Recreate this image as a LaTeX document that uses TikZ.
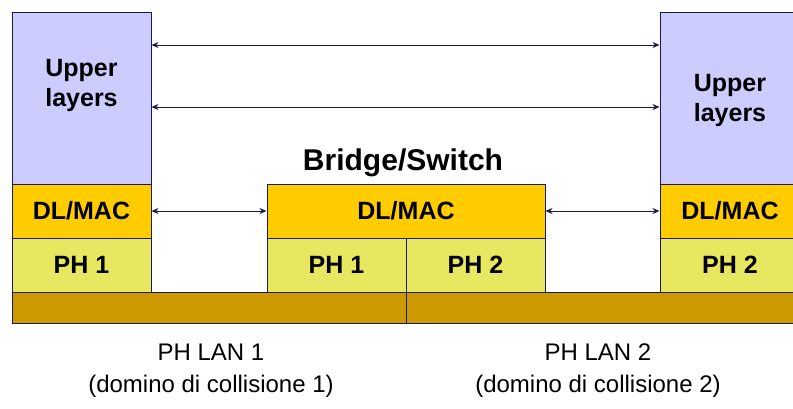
\documentclass[tikz,border=0pt]{standalone}
\usepackage{fontspec}
\setmainfont{Liberation Sans}
\usetikzlibrary{arrows.meta}
\definecolor{upper}{HTML}{CCCCFF}
\definecolor{dlmac}{HTML}{FFCC00}
\definecolor{phy}{HTML}{E8E860}
\definecolor{bar}{HTML}{CC9900}
\definecolor{edge}{HTML}{1A1A4A}
\tikzset{
  layer/.style={draw=edge, line width=1pt, rectangle, inner sep=0pt, outer sep=0pt,
    font=\fontsize{25}{30}\selectfont\bfseries, align=center},
  link/.style={draw=edge, line width=1pt, {Stealth[length=7pt,width=6pt]}-{Stealth[length=7pt,width=6pt]}, shorten <=0.5pt, shorten >=0.5pt},
  caption/.style={font=\fontsize{24}{32}\selectfont, align=center, inner sep=0pt}
}
\begin{document}
\begin{tikzpicture}[x=1pt,y=-1pt]
\useasboundingbox (0,0) rectangle (793,408);
\clip (0,0) rectangle (793,408);
% left station
\node[layer, fill=upper, minimum width=139pt, minimum height=172pt] (lup) at (81.5,98) {};
\node[font=\fontsize{25}{30}\selectfont\bfseries, align=center, inner sep=0pt] (luptxt) at (81.5,85) {Upper\\layers};
\node[layer, fill=dlmac, minimum width=139pt, minimum height=54pt] (ldl) at (81.5,211) {DL/MAC};
\node[layer, fill=phy, minimum width=139pt, minimum height=54pt] (lph) at (81.5,265) {PH 1};
% bridge
\node[font=\fontsize{30}{34}\selectfont\bfseries, inner sep=0pt] (btitle) at (403,163) {Bridge/Switch};
\node[layer, fill=dlmac, minimum width=278pt, minimum height=54pt] (bdl) at (406,211) {DL/MAC};
\node[layer, fill=phy, minimum width=139pt, minimum height=54pt] (bph1) at (336.5,265) {PH 1};
\node[layer, fill=phy, minimum width=139pt, minimum height=54pt] (bph2) at (475.5,265) {PH 2};
% right station
\node[layer, fill=upper, minimum width=140pt, minimum height=172pt] (rup) at (730,98) {};
\node[font=\fontsize{25}{30}\selectfont\bfseries, align=center, inner sep=0pt] (ruptxt) at (730,100) {Upper\\layers};
\node[layer, fill=dlmac, minimum width=140pt, minimum height=54pt] (rdl) at (730,211) {DL/MAC};
\node[layer, fill=phy, minimum width=140pt, minimum height=54pt] (rph) at (730,265) {PH 2};
% physical media
\node[layer, fill=bar, minimum width=394pt, minimum height=31pt] (bar1) at (209,307.5) {};
\node[layer, fill=bar, minimum width=400pt, minimum height=31pt] (bar2) at (606,307.5) {};
% links
\draw[link] (lup.east |- 0,45) -- (rup.west |- 0,45);
\draw[link] (lup.east |- 0,107) -- (rup.west |- 0,107);
\draw[link] (ldl.east) -- (bdl.west);
\draw[link] (bdl.east) -- (rdl.west);
% captions
\node[caption] (lan1) at (211,371) {PH LAN 1\\(domino di collisione 1)};
\node[caption] (lan2) at (598,371) {PH LAN 2\\(domino di collisione 2)};
\end{tikzpicture}
\end{document}
